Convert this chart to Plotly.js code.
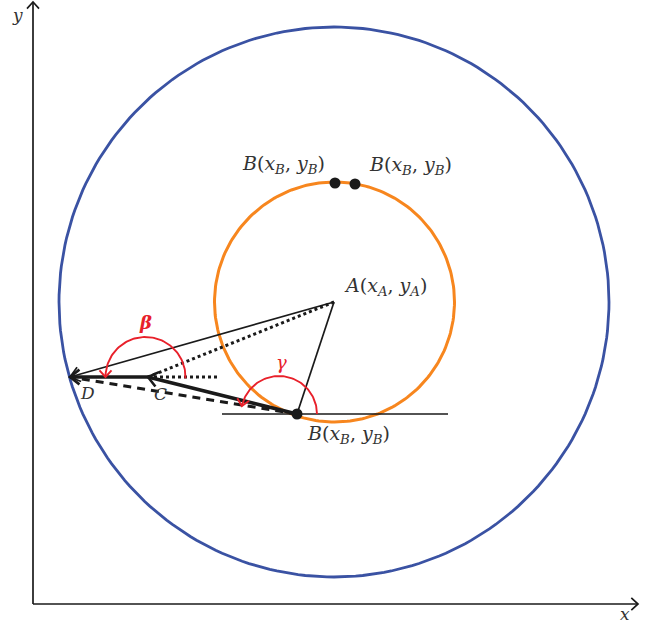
<!DOCTYPE html>
<html><head><meta charset="utf-8">
<script src="https://cdn.plot.ly/plotly-3.0.1.min.js"></script>
<style>html,body{margin:0;padding:0;background:#fff}</style>
</head><body><div id="chart" style="width:658px;height:628px"></div>
<script>
// ---- data (diagram units) ----
const pointNames = ["A", "B", "C", "D", "B1", "B2"];
const pointX = [301, 264, 115, 37, 302, 322];
const pointY = [302, 190, 227, 227, 421, 420];
const circleCX = [301, 301.5];
const circleCY = [302, 302];
const circleR = [275, 120];
const tangentX = [189, 415];
const tangentY = [190, 190];
const refLineEndX = 184;
const arcCX = [112.5, 246];
const arcCY = [227, 190];
const arcR = [40, 38];
const arcStart = [-2, 0];
const arcEnd = [180, 168];
const axisXEnd = 605;
const axisYEnd = 602;

const P = {};
pointNames.forEach((n, i) => P[n] = [pointX[i], pointY[i]]);

const BLACK = "#1a1a1a", BLUE = "#3a52a3", ORANGE = "#f7861e", RED = "#e8202a", TXT = "#333";

function chevron(tip, from, len, ang) {
  const dx = tip[0] - from[0], dy = tip[1] - from[1];
  const L = Math.hypot(dx, dy), ux = dx / L, uy = dy / L;
  const a = ang * Math.PI / 180;
  const r = (c, s) => [-(ux * c - uy * s), -(uy * c + ux * s)];
  const p1 = r(Math.cos(a), Math.sin(a)), p2 = r(Math.cos(a), -Math.sin(a));
  return {x: [tip[0] + p1[0] * len, tip[0], tip[0] + p2[0] * len],
          y: [tip[1] + p1[1] * len, tip[1], tip[1] + p2[1] * len]};
}
function line(x, y, color, width, dash) {
  return {type: "scatter", mode: "lines", x: x, y: y, hoverinfo: "skip",
          line: {color: color, width: width, dash: dash || "solid"}};
}
function arc(i) {
  const xs = [], ys = [];
  for (let t = arcStart[i]; t <= arcEnd[i] + 1e-9; t += 2) {
    const a = t * Math.PI / 180;
    xs.push(arcCX[i] + arcR[i] * Math.cos(a));
    ys.push(arcCY[i] + arcR[i] * Math.sin(a));
  }
  return {x: xs, y: ys};
}

const traces = [];
// axes
traces.push(line([0, 0], [0, axisYEnd], BLACK, 1.7));
traces.push(line([0, axisXEnd], [0, 0], BLACK, 1.7));
let ch = chevron([0, axisYEnd], [0, 0], 9, 42);
traces.push(line(ch.x, ch.y, BLACK, 1.7));
ch = chevron([axisXEnd, 0], [0, 0], 9, 42);
traces.push(line(ch.x, ch.y, BLACK, 1.7));

// circles via parametric points
[0, 1].forEach(i => {
  const xs = [], ys = [];
  for (let t = 0; t <= 360; t += 1.5) {
    const a = t * Math.PI / 180;
    xs.push(circleCX[i] + circleR[i] * Math.cos(a));
    ys.push(circleCY[i] + circleR[i] * Math.sin(a));
  }
  traces.push(line(xs, ys, i === 0 ? BLUE : ORANGE, i === 0 ? 2.8 : 3));
});

// tangent line at B
traces.push(line(tangentX, tangentY, BLACK, 1.7));
// A - B
traces.push(line([P.A[0], P.B[0]], [P.A[1], P.B[1]], BLACK, 1.7));
// A -> D thin
traces.push(line([P.A[0], P.D[0]], [P.A[1], P.D[1]], BLACK, 1.7));
// dotted A - C
traces.push(line([P.A[0], P.C[0]], [P.A[1], P.C[1]], BLACK, 3, "dot"));
// dotted horizontal at C
traces.push(line([P.C[0], refLineEndX], [P.C[1], P.C[1]], BLACK, 3, "dot"));
// dashed B - D
traces.push(line([P.B[0], P.D[0]], [P.B[1], P.D[1]], BLACK, 3, "8px,6px"));
// thick B -> C
traces.push(line([P.B[0], P.C[0]], [P.B[1], P.C[1]], BLACK, 3.6));
// thick C -> D
traces.push(line([P.C[0], P.D[0]], [P.C[1], P.D[1]], BLACK, 3.6));
// arrowheads
ch = chevron(P.D, P.C, 12, 38); traces.push(line(ch.x, ch.y, BLACK, 2.6));
ch = chevron(P.D, P.A, 12, 38); traces.push(line(ch.x, ch.y, BLACK, 1.8));
ch = chevron(P.C, P.B, 12, 38); traces.push(line(ch.x, ch.y, BLACK, 2.6));

// red arcs with arrowheads
[0, 1].forEach(i => {
  const a = arc(i);
  traces.push(line(a.x, a.y, RED, 1.9));
  const n = a.x.length;
  const tip = [a.x[n - 1], a.y[n - 1]];
  const e = arcEnd[i] * Math.PI / 180;
  const from = [tip[0] + Math.sin(e) * 10, tip[1] - Math.cos(e) * 10];
  const c = chevron(tip, from, 9, 42);
  traces.push(line(c.x, c.y, RED, 1.9));
});

// dots
traces.push({type: "scatter", mode: "markers", x: [P.B[0], P.B1[0], P.B2[0]],
  y: [P.B[1], P.B1[1], P.B2[1]], hoverinfo: "skip",
  marker: {color: BLACK, size: 11}});

const F = "DejaVu Serif, serif";
const lbl = "<i>B</i>(<i>x</i><sub><i>B</i></sub>, <i>y</i><sub><i>B</i></sub>)";
function ann(text, x, y, xanchor, size, color) {
  return {text: text, x: x, y: y, xref: "x", yref: "y", showarrow: false,
          xanchor: xanchor || "center", yanchor: "middle",
          font: {family: F, size: size || 17, color: color || TXT}};
}
const annotations = [
  ann("<i>y</i>", -16, 589),
  ann("<i>x</i>", 592, -10),
  ann("<i>A</i>(<i>x</i><sub><i>A</i></sub>, <i>y</i><sub><i>A</i></sub>)", 309, 318, "left", 19),
  ann(lbl, 250, 440, "center", 19),
  ann(lbl, 377, 439, "center", 19),
  ann(lbl, 315, 170, "center", 19),
  ann("<i>D</i>", 54, 211),
  ann("<i>C</i>", 127, 210),
  ann("<b><i>β</i></b>", 112, 282, "center", 18, RED),
  ann("<i>γ</i>", 248, 242, "center", 18, RED)
];

const layout = {
  width: 658, height: 628, margin: {l: 0, r: 0, t: 0, b: 0},
  paper_bgcolor: "#fff", plot_bgcolor: "#fff", showlegend: false,
  xaxis: {range: [-33, 625], visible: false, fixedrange: true},
  yaxis: {range: [-24, 604], visible: false, fixedrange: true},
  annotations: annotations
};
Plotly.newPlot("chart", traces, layout, {staticPlot: true, displayModeBar: false});
</script></body></html>
